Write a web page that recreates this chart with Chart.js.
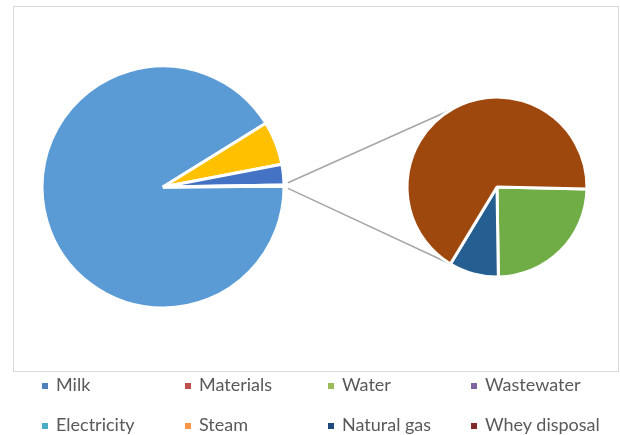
<!DOCTYPE html>
<html>
<head>
<meta charset="utf-8">
<script src="https://cdn.jsdelivr.net/npm/chart.js@4.4.1/dist/chart.umd.min.js"></script>
<style>
    body { margin: 0; background: #fff; }
    #wrap { position: relative; width: 620px; height: 435px; overflow: hidden; font-family: Lato, 'Open Sans', sans-serif; }
    #frame { position: absolute; left: 13px; top: 6px; width: 604px; height: 364px; border: 1px solid #d9d9d9; }
    canvas { position: absolute; left: 0; top: 0; }
    .item { position: absolute; font-size: 18px; color: #595959; line-height: 20px; white-space: nowrap; }
    .item i { position: absolute; left: 0; top: 9px; width: 6px; height: 6px; }
    .item span { padding-left: 14px; }
</style>
</head>
<body>
<div id="wrap">
    <div id="frame"></div>
    <canvas id="mainPie" width="620" height="435"></canvas>
    <canvas id="otherPie" width="620" height="435"></canvas>
    <div id="legend"></div>
</div>
<script>
// legend entries (all categories)
const categories = ['Milk', 'Materials', 'Water', 'Wastewater', 'Electricity', 'Steam', 'Natural gas', 'Whey disposal'];
const legendColors = ['#4F81BD', '#C0504D', '#9BBB59', '#8064A2', '#4BACC6', '#F79646', '#1F497D', '#7F2B2A'];

// main pie (share of total, %)
const mainLabels = ['Milk', 'Wastewater', 'Electricity', 'Other'];
const mainValues = [91.28, 5.82, 2.76, 0.14];
const mainColors = ['#5B9BD5', '#FFC000', '#4472C4', '#FFFFFF'];

// second pie: breakdown of "Other" (%)
const otherLabels = ['Steam', 'Natural gas', 'Whey disposal'];
const otherValues = [24.4, 8.9, 66.7];
const otherColors = ['#70AD47', '#255E91', '#9E480E'];

// legend
const legend = document.getElementById('legend');
legend.innerHTML = categories.map((c, i) => {
    const left = 42 + (i % 4) * 143;
    const top = 374 + Math.floor(i / 4) * 40;
    return `<div class="item" style="left:${left}px;top:${top}px"><i style="background:${legendColors[i]}"></i><span>${c}</span></div>`;
}).join('');

const baseOptions = {
    responsive: false,
    animation: false,
    events: [],
    plugins: { legend: { display: false }, tooltip: { enabled: false } }
};

const mainChart = new Chart(document.getElementById('mainPie'), {
    type: 'pie',
    data: {
        labels: mainLabels,
        datasets: [{
            data: mainValues,
            backgroundColor: mainColors,
            borderColor: '#fff',
            borderWidth: 3
        }]
    },
    options: {
        ...baseOptions,
        rotation: 89.6,
        radius: 121,
        layout: { padding: { left: 43, right: 337, top: 67, bottom: 128 } }
    }
});

// series lines from the "Other" slice to the second pie
const connector = {
    id: 'connector',
    beforeDatasetsDraw(chart) {
        const arcs1 = mainChart.getDatasetMeta(0).data;
        const other = arcs1[mainLabels.indexOf('Other')];
        const arcs2 = chart.getDatasetMeta(0).data;
        const last = arcs2[arcs2.length - 1];

        const mid = (other.startAngle + other.endAngle) / 2;
        const r1 = other.outerRadius + 4;
        const bx = other.x + r1 * Math.cos(mid);
        const by = other.y + r1 * Math.sin(mid);
        const nx = -Math.sin(mid), ny = Math.cos(mid);
        const half = 2.8;

        const a = last.startAngle;
        const r2 = last.outerRadius;
        const ex = last.x + r2 * Math.cos(a);
        const dy = r2 * Math.sin(a);

        const ctx = chart.ctx;
        ctx.save();
        ctx.strokeStyle = '#A6A6A6';
        ctx.lineWidth = 1.5;
        ctx.beginPath();
        ctx.moveTo(bx - nx * half, by - ny * half);
        ctx.lineTo(ex, last.y - dy);
        ctx.moveTo(bx + nx * half, by + ny * half);
        ctx.lineTo(ex, last.y + dy);
        ctx.stroke();
        ctx.restore();
    }
};

new Chart(document.getElementById('otherPie'), {
    type: 'pie',
    data: {
        labels: otherLabels,
        datasets: [{
            data: otherValues,
            backgroundColor: otherColors,
            borderColor: '#fff',
            borderWidth: 3
        }]
    },
    options: {
        ...baseOptions,
        rotation: 91.3,
        radius: 90,
        layout: { padding: { left: 408, right: 34, top: 98, bottom: 159 } }
    },
    plugins: [connector]
});
</script>
</body>
</html>
